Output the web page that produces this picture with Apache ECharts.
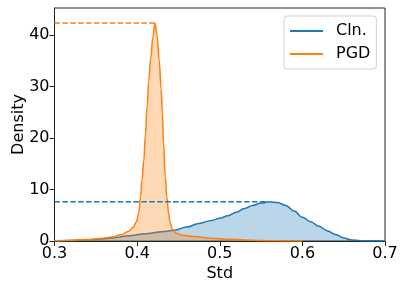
<!DOCTYPE html>
<html><head><meta charset="utf-8">
<script src="https://cdn.jsdelivr.net/npm/echarts@6/dist/echarts.min.js"></script>
<style>html,body{margin:0;padding:0;background:#fff}#c{width:407px;height:291px}</style>
</head><body><div id="c"></div>
<script>
var seriesNames = ['Cln.', 'PGD'];
var clnX = [0.30,0.32,0.34,0.355,0.37,0.39,0.41,0.43,0.445,0.46,0.475,0.49,0.50,0.51,0.52,0.53,0.54,0.55,0.56,0.57,0.58,0.59,0.60,0.61,0.62,0.63,0.64,0.65,0.66,0.67,0.68,0.70];
var clnY = [0.02,0.08,0.2,0.4,0.6,1.0,1.4,1.8,2.1,2.7,3.4,4.0,4.4,4.9,5.6,6.3,6.9,7.35,7.6,7.45,6.9,5.8,4.6,3.75,2.85,2.0,1.25,0.6,0.2,0.07,0.03,0.0];
var pgdX = [0.30,0.32,0.34,0.355,0.37,0.38,0.39,0.395,0.399,0.402,0.404,0.406,0.408,0.410,0.412,0.414,0.4165,0.419,0.4216,0.424,0.4268,0.429,0.4305,0.432,0.434,0.436,0.438,0.440,0.443,0.447,0.455,0.47,0.49,0.51,0.53,0.55,0.57,0.60];
var pgdY = [0.05,0.15,0.3,0.5,0.8,1.2,1.9,2.6,3.7,5.5,8.5,12,15.5,20.5,26,31,35.5,39.5,42.3,40,35,29.5,25,19,12.5,8.5,5.5,3.5,2.2,1.5,1.1,0.85,0.55,0.35,0.2,0.1,0.04,0.0];
var peakX = [0.5587, 0.4216];
var peakY = [7.6, 42.3];
var xTicks = [0.3, 0.4, 0.5, 0.6, 0.7];
var yTicks = [0, 10, 20, 30, 40];
var colors = ['#1f77b4', '#ff7f0e'];

function pairs(xs, ys){ return xs.map(function(x,i){ return [x, ys[i]]; }); }
var font = 'DejaVu Sans';
var series = [];
[[clnX, clnY], [pgdX, pgdY]].forEach(function(d, i){
  series.push({
    name: seriesNames[i], type: 'line', data: pairs(d[0], d[1]),
    smooth: 0.4, smoothMonotone: 'x', symbol: 'none', z: 2 + i,
    lineStyle: {color: colors[i], width: 1.5},
    itemStyle: {color: colors[i]},
    areaStyle: {color: colors[i], opacity: 0.3}
  });
});
peakX.forEach(function(px, i){
  series.push({
    name: seriesNames[i] + ' peak', type: 'line', data: [[0.3, peakY[i]], [px, peakY[i]]],
    symbol: 'none', z: 4, silent: true,
    lineStyle: {color: colors[i], width: 1.5, type: [5.5, 2.4]}
  });
});

var chart = echarts.init(document.getElementById('c'), null, {renderer: 'canvas'});
chart.setOption({
  animation: false,
  textStyle: {fontFamily: font},
  grid: {left: 54.5, right: 22, top: 8, bottom: 50, containLabel: false, outerBoundsMode: 'none',
    show: true, borderColor: '#222', borderWidth: 1, backgroundColor: 'transparent'},
  legend: {
    data: seriesNames, orient: 'vertical', left: 284, top: 16,
    padding: [6, 6, 6, 6], itemGap: 5, itemWidth: 33, itemHeight: 2, icon: 'rect',
    borderColor: '#d0d0d0', borderWidth: 1, borderRadius: 3, backgroundColor: '#fff',
    textStyle: {fontFamily: font, fontSize: 16, color: '#000', lineHeight: 18, padding: [0, 0, 0, 8]}
  },
  xAxis: {
    type: 'value', min: 0.3, max: 0.7, interval: 0.1,
    name: 'Std', nameLocation: 'middle', nameGap: 25, nameMoveOverlap: false,
    nameTextStyle: {fontFamily: font, fontSize: 16, color: '#000'},
    axisLine: {show: true, onZero: false, lineStyle: {color: '#222', width: 1}},
    axisTick: {show: true, length: 5, inside: false, lineStyle: {color: '#222'}, customValues: xTicks},
    axisLabel: {fontFamily: font, fontSize: 16, color: '#000', margin: 5, customValues: xTicks,
      formatter: function(v){ return v.toFixed(1); }},
    splitLine: {show: false}
  },
  yAxis: {
    type: 'value', min: 0, max: 45.2, interval: 10,
    name: 'Density', nameLocation: 'middle', nameGap: 28, nameMoveOverlap: false,
    nameTextStyle: {fontFamily: font, fontSize: 16, color: '#000'},
    axisLine: {show: true, lineStyle: {color: '#222', width: 1}},
    axisTick: {show: true, length: 5, inside: false, lineStyle: {color: '#222'}, customValues: yTicks},
    axisLabel: {fontFamily: font, fontSize: 16, color: '#000', margin: 5, customValues: yTicks},
    splitLine: {show: false}
  },
  series: series
});
</script></body></html>
